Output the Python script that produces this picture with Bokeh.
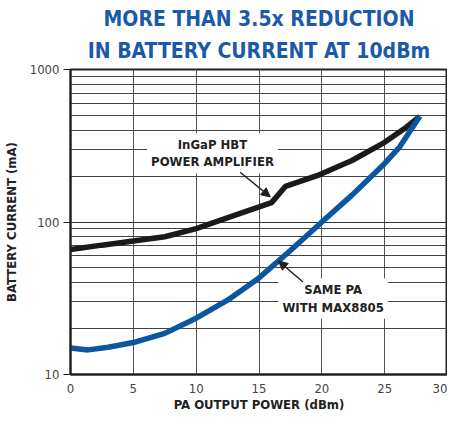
from bokeh.plotting import figure
from bokeh.models import Title, Label, Arrow, NormalHead, FixedTicker
from bokeh.embed import file_html
from bokeh.resources import INLINE

# data
x_ingap = [0, 2.5, 5, 7.5, 10, 12.7, 16, 17.1, 19.8, 22.4, 25, 26.7, 27.8]
y_ingap = [66, 70.5, 75, 80, 90.6, 108, 134, 171, 204, 253, 333, 417, 493]

x_max = [0, 1.4, 3, 5, 7.5, 10, 12.5, 15, 17.5, 20, 22.4, 25, 26.2, 27.8]
y_max = [14.9, 14.5, 15.1, 16.2, 18.6, 23.4, 30.7, 43, 65, 100, 150, 242, 311, 493]

x_ticks = [0, 5, 10, 15, 20, 25, 30]
y_ticks = [10, 100, 1000]
y_minor = [20, 30, 40, 50, 60, 70, 80, 90, 200, 300, 400, 500, 600, 700, 800, 900]

TITLE_BLUE = "#1a5aa8"
LINE_BLUE = "#0a56a0"
NARROW = "'DejaVu Sans Condensed', 'Roboto Condensed', 'Arial Narrow', Roboto"

p = figure(width=447, height=410, x_range=(0, 30), y_range=(10, 1000),
           y_axis_type="log", output_backend="svg", toolbar_location=None,
           title="MORE THAN 3.5x REDUCTION", margin=(4, 0, 0, 0),
           min_border_left=61, min_border_right=0, min_border_top=0, min_border_bottom=0)

TS = "21px"
p.title.align = "center"
p.title.text_font = NARROW
p.title.text_font_size = TS
p.title.text_color = TITLE_BLUE
p.title.text_font_style = "bold"
p.title.standoff = 0
t2 = Title(text="IN BATTERY CURRENT AT 10dBm", align="center", text_font=NARROW,
           text_font_size=TS, text_color=TITLE_BLUE, text_font_style="bold", standoff=13)
p.add_layout(t2, "above")

p.outline_line_color = "#222222"
p.outline_line_width = 2
p.background_fill_color = "white"

# grids
p.xgrid.ticker = FixedTicker(ticks=x_ticks)
p.xgrid.grid_line_color = "#555555"
p.xgrid.grid_line_width = 1
p.ygrid.ticker = FixedTicker(ticks=y_ticks, minor_ticks=y_minor)
p.ygrid.grid_line_color = "#333333"
p.ygrid.grid_line_width = 1
p.ygrid.minor_grid_line_color = "#444444"
p.ygrid.minor_grid_line_width = 1

p.xaxis.ticker = FixedTicker(ticks=x_ticks)
p.yaxis.ticker = FixedTicker(ticks=y_ticks, minor_ticks=y_minor)
p.yaxis.major_label_overrides = {10: "10", 100: "100", 1000: "1000"}

for ax in (p.xaxis[0], p.yaxis[0]):
    ax.axis_line_color = "#222222"
    ax.axis_line_width = 2
    ax.major_label_text_font = NARROW
    ax.major_label_text_font_size = "13px"
    ax.major_label_text_color = "#444444"
    ax.minor_tick_line_color = None
    ax.axis_label_text_font = NARROW
    ax.axis_label_text_font_size = "13px"
    ax.axis_label_text_font_style = "bold"
    ax.axis_label_text_color = "#222222"

p.yaxis.major_tick_out = 7
p.yaxis.major_tick_in = 0
p.yaxis.major_tick_line_color = "#222222"
p.yaxis.major_label_standoff = 4
p.xaxis.major_tick_out = 0
p.xaxis.major_tick_in = 0
p.xaxis.major_label_standoff = 9
p.xaxis.axis_label = "PA OUTPUT POWER (dBm)"
p.yaxis.axis_label = "BATTERY CURRENT (mA)"
p.xaxis.axis_label_standoff = 1
p.yaxis.axis_label_standoff = 8

# label boxes (white background masks grid)
lab1 = Label(x=11.3, y=282, text="InGaP HBT\nPOWER AMPLIFIER", text_align="center",
             text_baseline="middle", text_font=NARROW, text_font_size="13px",
             text_font_style="bold", text_color="#222222", background_fill_color="white",
             padding=4, text_line_height=1.15)
lab2 = Label(x=20.9, y=31.5, text="SAME PA\nWITH MAX8805", text_align="center",
             text_baseline="middle", text_font=NARROW, text_font_size="13px",
             text_font_style="bold", text_color="#222222", background_fill_color="white",
             padding=4, text_line_height=1.15)
p.add_layout(lab1)
p.add_layout(lab2)

p.line(x_ingap, y_ingap, line_color="#1a1a1a", line_width=5.5)
p.line(x_max, y_max, line_color=LINE_BLUE, line_width=5.5)

p.add_layout(Arrow(x_start=13.5, y_start=212, x_end=15.9, y_end=146,
                   line_width=1.5, line_color="#222222",
                   end=NormalHead(size=9, fill_color="#222222", line_color="#222222")))
p.add_layout(Arrow(x_start=18.5, y_start=40.4, x_end=16.55, y_end=55.5,
                   line_width=1.5, line_color="#222222",
                   end=NormalHead(size=9, fill_color="#222222", line_color="#222222")))

open("out.html", "w").write(file_html(p, INLINE))
